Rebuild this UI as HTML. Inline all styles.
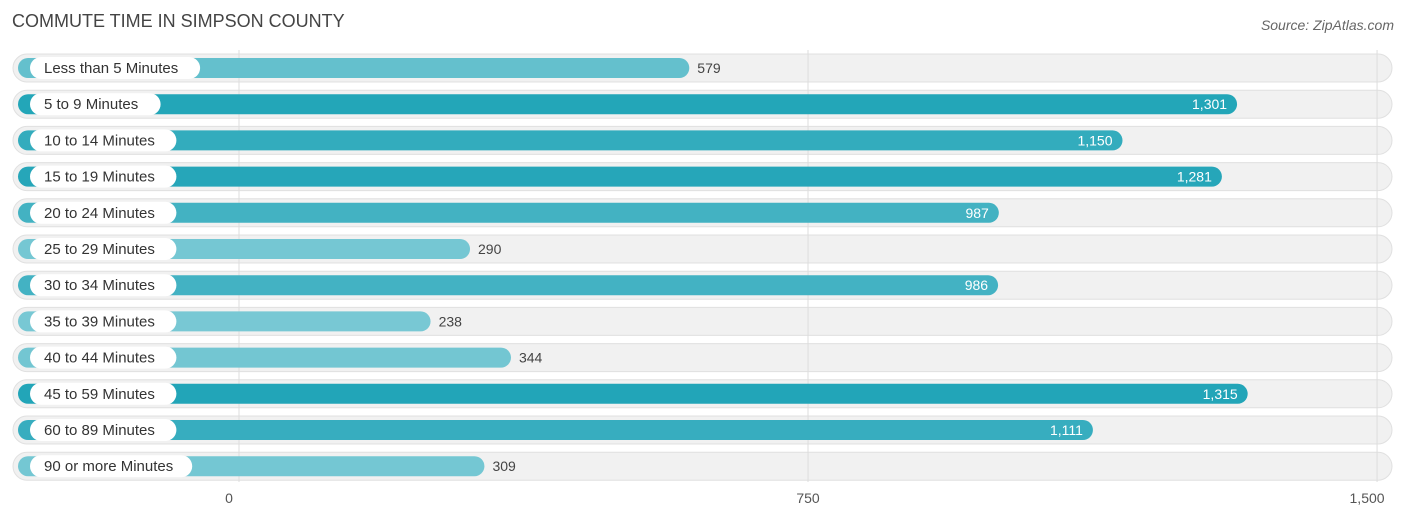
<!DOCTYPE html>
<html><head><meta charset="utf-8"><style>
body{margin:0;background:#fff;font-family:"Liberation Sans",sans-serif;}
svg{display:block}
</style></head><body>
<svg id="c" width="1406" height="522">
<text x="12" y="27" font-size="18" fill="#444">COMMUTE TIME IN SIMPSON COUNTY</text>
<text x="1394" y="30" font-size="14" fill="#666" font-style="italic" text-anchor="end">Source: ZipAtlas.com</text>
<g id="grid"></g><g id="rows"></g><g id="ticks"></g>
</svg>
<script>
const categories=["Less than 5 Minutes","5 to 9 Minutes","10 to 14 Minutes","15 to 19 Minutes","20 to 24 Minutes","25 to 29 Minutes","30 to 34 Minutes","35 to 39 Minutes","40 to 44 Minutes","45 to 59 Minutes","60 to 89 Minutes","90 or more Minutes"];
const values=[579,1301,1150,1281,987,290,986,238,344,1315,1111,309];
const tickValues=[0,750,1500];
const tickLabels=["0","750","1,500"];
const NS="http://www.w3.org/2000/svg";
const x=v=>239+v*0.7587;
const y=i=>68+i*36.2;
function mk(tag,attrs,parent){const e=document.createElementNS(NS,tag);for(const k in attrs)e.setAttribute(k,attrs[k]);parent.appendChild(e);return e;}
const grid=document.getElementById('grid'),rows=document.getElementById('rows'),ticks=document.getElementById('ticks');
const maxV=Math.max(...values);
function col(v){const t=Math.min(1,v/maxV);const a=[127,203,214],b=[34,165,184];return `rgb(${a.map((c,i)=>Math.round(c+(b[i]-c)*Math.pow(t,1.5))).join(',')})`;}
categories.forEach((c,i)=>{
  const cy=y(i);
  const bg=mk('rect',{x:13,y:cy-14,width:1379,height:28,rx:14,fill:'#f1f1f1',stroke:'#e0e0e0','stroke-width':1},rows);
  
});
tickValues.forEach((t,i)=>{
  const l=mk('line',{x1:x(t),x2:x(t),y1:50,y2:482,stroke:'#ddd','stroke-width':1},grid);
  
  const tx=mk('text',{x:x(t)-(i==2?10:(i==0?10:0)),y:503,'font-size':14,fill:'#555','text-anchor':'middle'},ticks);
  tx.textContent=tickLabels[i];
  
});
rows.parentNode.appendChild(grid);
const bars=mk('g',{},rows.parentNode);
categories.forEach((c,i)=>{
  const cy=y(i),v=values[i],end=x(v)+11;
  const b=mk('rect',{x:18,y:cy-10,width:end-18,height:20,rx:10,fill:col(v)},bars);
  
  const lw=c.length*7.9+20;
  const p=mk('rect',{x:30,y:cy-11,width:lw,height:22,rx:11,fill:'#fff'},bars);
  
  const t=mk('text',{x:44,y:cy+5,'font-size':15,fill:'#333'},bars);
  t.textContent=c;
  
  const inside=v>600;
  const vt=mk('text',{x:inside?end-10:end+8,y:cy+5,'font-size':14,fill:inside?'#fff':'#444','text-anchor':inside?'end':'start'},bars);
  vt.textContent=v.toLocaleString('en-US');
  
});
</script>
</body></html>
